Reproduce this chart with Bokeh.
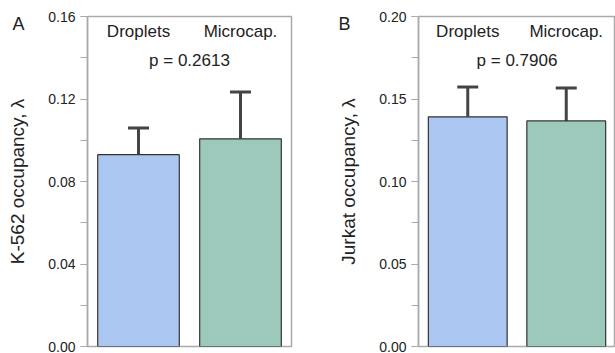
from bokeh.plotting import figure
from bokeh.layouts import row
from bokeh.models import (ColumnDataSource, Range1d, FactorRange, SingleIntervalTicker,
                          NumeralTickFormatter, Whisker, TeeHead, Label)
from bokeh.core.properties import value
from bokeh.embed import file_html
from bokeh.resources import INLINE

categories = ["Droplets", "Microcap."]
bar_colors = ["#abc7f1", "#9cc9bc"]

k562_mean = [0.0930, 0.1007]
k562_err = [0.0130, 0.0227]
k562_p = "p = 0.2613"
k562_ymax = 0.16
k562_tick = 0.04

jurkat_mean = [0.1392, 0.1367]
jurkat_err = [0.0180, 0.0199]
jurkat_p = "p = 0.7906"
jurkat_ymax = 0.20
jurkat_tick = 0.05

FONT = "Liberation Sans"
TXT = "#222222"
GRAY = "#aaaaaa"


def panel(letter, ylabel, means, errs, ptext, ymax, tick, width, b_left, b_right, letter_dx):
    src = ColumnDataSource(dict(cat=categories, val=means,
                                hi=[m + e for m, e in zip(means, errs)],
                                color=bar_colors))
    p = figure(x_range=FactorRange(*categories), y_range=Range1d(0, ymax),
               width=width, height=353, output_backend="svg", toolbar_location=None,
               x_axis_location=None, min_border_left=b_left, min_border_right=b_right,
               min_border_top=16, min_border_bottom=7)
    p.xgrid.visible = False
    p.ygrid.visible = False
    p.outline_line_color = GRAY
    p.outline_line_width = 1.5
    p.background_fill_color = "white"
    p.border_fill_color = "white"

    # panel letter as the (left-shifted, lowered) title
    p.title.text = letter
    p.title.align = "left"
    p.title.offset = letter_dx
    p.title.standoff = -34
    p.title.vertical_align = "bottom"
    p.title.text_font = FONT
    p.title.text_font_size = "18px"
    p.title.text_font_style = "normal"
    p.title.text_color = TXT

    ax = p.yaxis[0]
    ax.ticker = SingleIntervalTicker(interval=tick, num_minor_ticks=2)
    ax.formatter = NumeralTickFormatter(format="0.00")
    ax.axis_label = ylabel
    ax.axis_label_text_font = FONT
    ax.axis_label_text_font_size = "19px"
    ax.axis_label_text_font_style = "normal"
    ax.axis_label_text_color = TXT
    ax.axis_label_standoff = 17
    ax.major_label_text_font = FONT
    ax.major_label_text_font_size = "14px"
    ax.major_label_text_color = TXT
    ax.major_label_standoff = 5
    ax.axis_line_color = GRAY
    ax.axis_line_width = 1.5
    ax.major_tick_line_color = GRAY
    ax.minor_tick_line_color = GRAY
    ax.major_tick_line_width = 1.2
    ax.minor_tick_line_width = 1.2
    ax.major_tick_in = 0
    ax.major_tick_out = 7
    ax.minor_tick_in = 0
    ax.minor_tick_out = 7

    p.vbar(x="cat", top="val", width=0.8, source=src, fill_color="color",
           line_color="#333333", line_width=1.2)
    p.add_layout(Whisker(source=src, base="cat", lower="val", upper="hi",
                         line_color="#444444", line_width=3, lower_head=None,
                         upper_head=TeeHead(size=21, line_color="#444444", line_width=3)))

    p.text(x="cat", y=ymax, text="cat", source=src, text_align="center",
           text_baseline="middle", y_offset=15, text_font=value(FONT),
           text_font_size="17px", text_color=TXT)
    p.add_layout(Label(x=len(categories) / 2, y=ymax, y_offset=-44, text=ptext,
                       text_align="center", text_baseline="middle", text_font=FONT,
                       text_font_size="17px", text_color=TXT))
    return p


pA = panel("A", "K-562 occupancy, λ", k562_mean, k562_err, k562_p, k562_ymax, k562_tick,
           305, 87, 14, -75)
pB = panel("B", "Jurkat occupancy, λ", jurkat_mean, jurkat_err, jurkat_p, jurkat_ymax,
           jurkat_tick, 310, 113, 0, -80)

layout = row(pA, pB)
open("out.html", "w").write(file_html(layout, INLINE))
